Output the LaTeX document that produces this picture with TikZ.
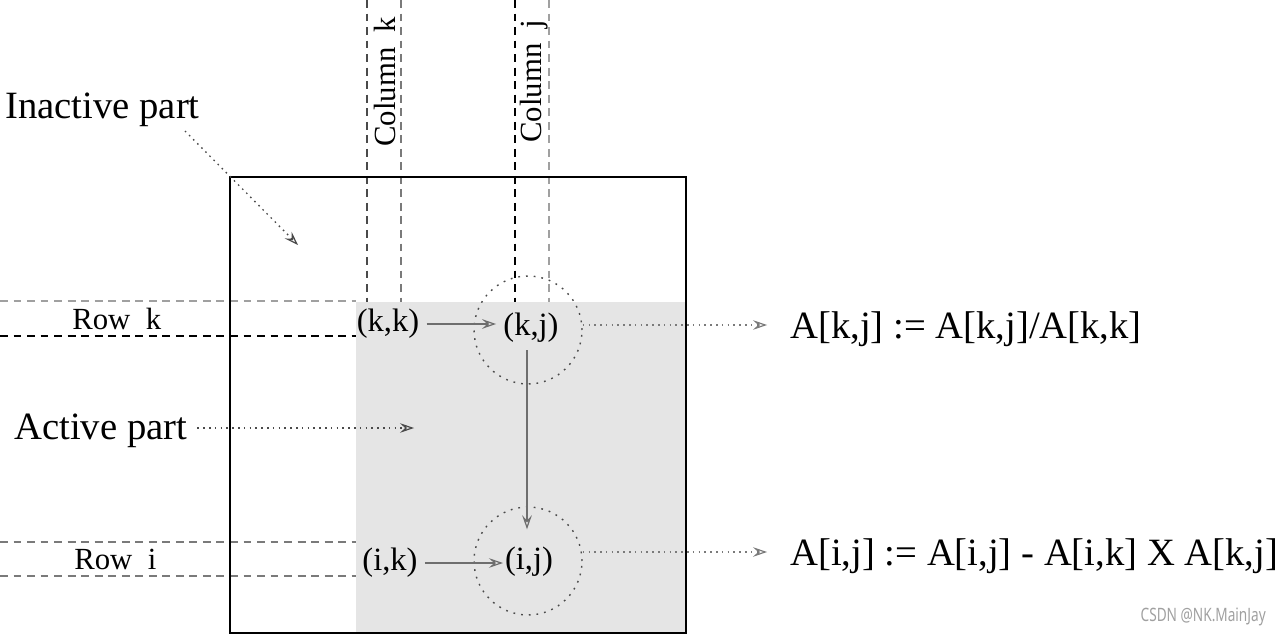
\documentclass[tikz,border=0pt]{standalone}
\usepackage{fontspec}
\setmainfont{Liberation Serif}
\newfontfamily\wmfont{Noto Sans}
\usetikzlibrary{arrows.meta}
\definecolor{actgray}{HTML}{E5E5E5}
\definecolor{dgray}{HTML}{4A4A4A}
\definecolor{mgray}{HTML}{7A7A7A}
\definecolor{lgray}{HTML}{A0A0A0}
\begin{document}
\begin{tikzpicture}[x=0.02cm,y=-0.02cm,
  sq/.style={line width=1.1pt},
  dsh/.style={dash pattern=on 4.5pt off 3.2pt, line width=0.65pt},
  dotl/.style={dash pattern=on 0.9pt off 2.4pt, line width=0.75pt},
  cdot/.style={dash pattern=on 1pt off 3.4pt, line width=0.8pt},
  tip/.style={-{Stealth[open,length=8pt,width=5.5pt,inset=3pt,line width=0.7pt]}},
  big/.style={inner sep=0pt, font=\fontsize{22}{24}\selectfont},
  small/.style={inner sep=0pt, font=\fontsize{17.5}{20}\selectfont},
  cell/.style={inner sep=0pt, font=\fontsize{18.5}{21}\selectfont},
  flow/.style={dgray!80, line width=0.9pt, tip}
]
\useasboundingbox (0,0) rectangle (1280,638);
% shaded active part
\fill[actgray] (356,302) rectangle (686,633);
% column lines
\draw[dsh, dgray] (367,0) -- (367,302);
\draw[dsh, mgray] (401,0) -- (401,302);
\draw[dsh, black] (515,0) -- (515,302);
\draw[dsh, lgray] (549,0) -- (549,302);
% row lines
\draw[dsh, lgray] (0,301) -- (356,301);
\draw[dsh, black] (0,336) -- (356,336);
\draw[dsh, mgray] (0,542) -- (356,542);
\draw[dsh, mgray] (0,576) -- (356,576);
% square
\draw[sq] (230,177) rectangle (686,633);
% labels
\node[small, rotate=90, anchor=base west] (colk) at (395,147) {Column\hspace{0.5em}k};
\node[small, rotate=90, anchor=base west] (colj) at (541,143) {Column\hspace{0.5em}j};
\node[small, anchor=base west] (rowk) at (72,329) {Row\hspace{0.5em}k};
\node[small, anchor=base west] (rowi) at (74,569) {Row\hspace{0.5em}i};
\node[big, anchor=base west] (inact) at (5,119) {Inactive part};
\node[big, anchor=base west] (act) at (14,439) {Active part};
% element labels
\node[cell] (kk) at (388,324) {(k,k)};
\node[cell] (kj) at (531,328) {(k,j)};
\node[cell] (ik) at (390,563) {(i,k)};
\node[cell] (ij) at (529,562) {(i,j)};
% dotted circles
\node[circle, draw, cdot, dgray, minimum size=2.16cm, inner sep=0pt] (ckj) at (528,330) {};
\node[circle, draw, cdot, dgray, minimum size=2.16cm, inner sep=0pt] (cij) at (528,561) {};
% flow arrows
\draw[flow, shorten <=4pt, shorten >=4pt] (kk.east) -- (kk.east -| kj.west);
\draw[flow, shorten <=4pt, shorten >=1pt] (ik.east) -- (ik.east -| ij.west);
\draw[flow, shorten <=4pt, shorten >=10pt] (kj.south -| 527,0) -- (ij.north -| 527,0);
% equations
\node[big, anchor=base west] (eq1) at (790,338) {A[k,j] := A[k,j]/A[k,k]};
\node[big, anchor=base west] (eq2) at (790,565) {A[i,j] := A[i,j] - A[i,k] X A[k,j]};
\coordinate (e1) at (767,325);
\coordinate (e2) at (767,552);
\draw[dotl, mgray, tip] (ckj.east |- e1) -- (e1);
\draw[dotl, mgray, tip] (cij.east |- e2) -- (e2);
% pointer arrows
\coordinate (ia) at (298,245);
\coordinate (aa) at (414,428);
\draw[dotl, dgray, tip] (185,131) -- (ia);
\draw[dotl, dgray, tip] (act.east |- aa) ++(10,0) -- (aa);
% watermark
\node[inner sep=0pt, anchor=east, xscale=0.74, font=\wmfont\fontsize{10.5}{12}\selectfont, text=lgray] (wm) at (1266,617) {CSDN @NK.MainJay};
\end{tikzpicture}
\end{document}
